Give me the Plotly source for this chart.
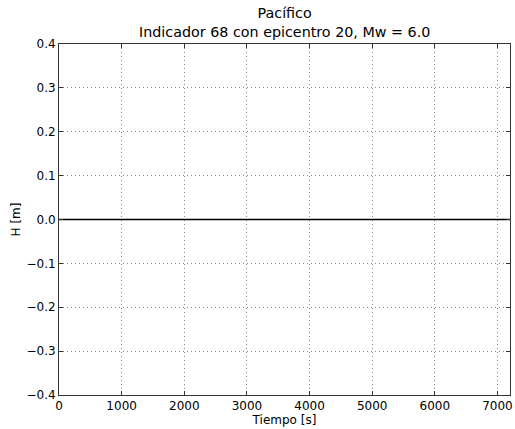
import plotly.graph_objects as go

tiempo = [0, 7200]
H = [0.0, 0.0]
x_ticks = [0, 1000, 2000, 3000, 4000, 5000, 6000, 7000]
y_ticks = [-0.4, -0.3, -0.2, -0.1, 0.0, 0.1, 0.2, 0.3, 0.4]
title_lines = ["Pacífico", "Indicador 68 con epicentro 20, Mw = 6.0"]

fig = go.Figure()
fig.add_trace(go.Scatter(x=tiempo, y=H, mode="lines",
                         line=dict(color="black", width=1.5), showlegend=False))

font = "DejaVu Sans"
axis_common = dict(
    showline=True, linecolor="#333", linewidth=1, mirror="ticks",
    ticks="inside", ticklen=4, tickcolor="#333", tickwidth=1,
    showgrid=True, gridcolor="#888", griddash="1px,3px", gridwidth=1,
    zeroline=False, tickfont=dict(family=font, size=12, color="black"),
    ticklabeloverflow="allow",
)
fig.update_layout(
    width=515, height=429,
    margin=dict(l=59, r=2, t=44, b=34),
    paper_bgcolor="white", plot_bgcolor="white",
    font=dict(family=font, color="black"),
    xaxis=dict(range=[0, 7200], tickmode="array", tickvals=x_ticks,
               ticktext=[str(v) for v in x_ticks],
               title=dict(text="Tiempo [s]", font=dict(family=font, size=12), standoff=0),
               **axis_common),
    yaxis=dict(range=[-0.4, 0.4], tickmode="array", tickvals=y_ticks,
               ticktext=[("\u2212" if v < 0 else "") + f"{abs(v):.1f}" for v in y_ticks],
               title=dict(text="H [m]", font=dict(family=font, size=12), standoff=3),
               **axis_common),
)
fig.add_annotation(text="<br>".join(title_lines), xref="paper", yref="paper",
                   x=0.5, y=1, xanchor="center", yanchor="bottom", yshift=2,
                   showarrow=False, align="center",
                   font=dict(family=font, size=14.3, color="black"))
fig.write_html("out.html", config={"displayModeBar": False},
               post_script="document.body.style.margin='0';document.body.style.overflow='hidden';")
